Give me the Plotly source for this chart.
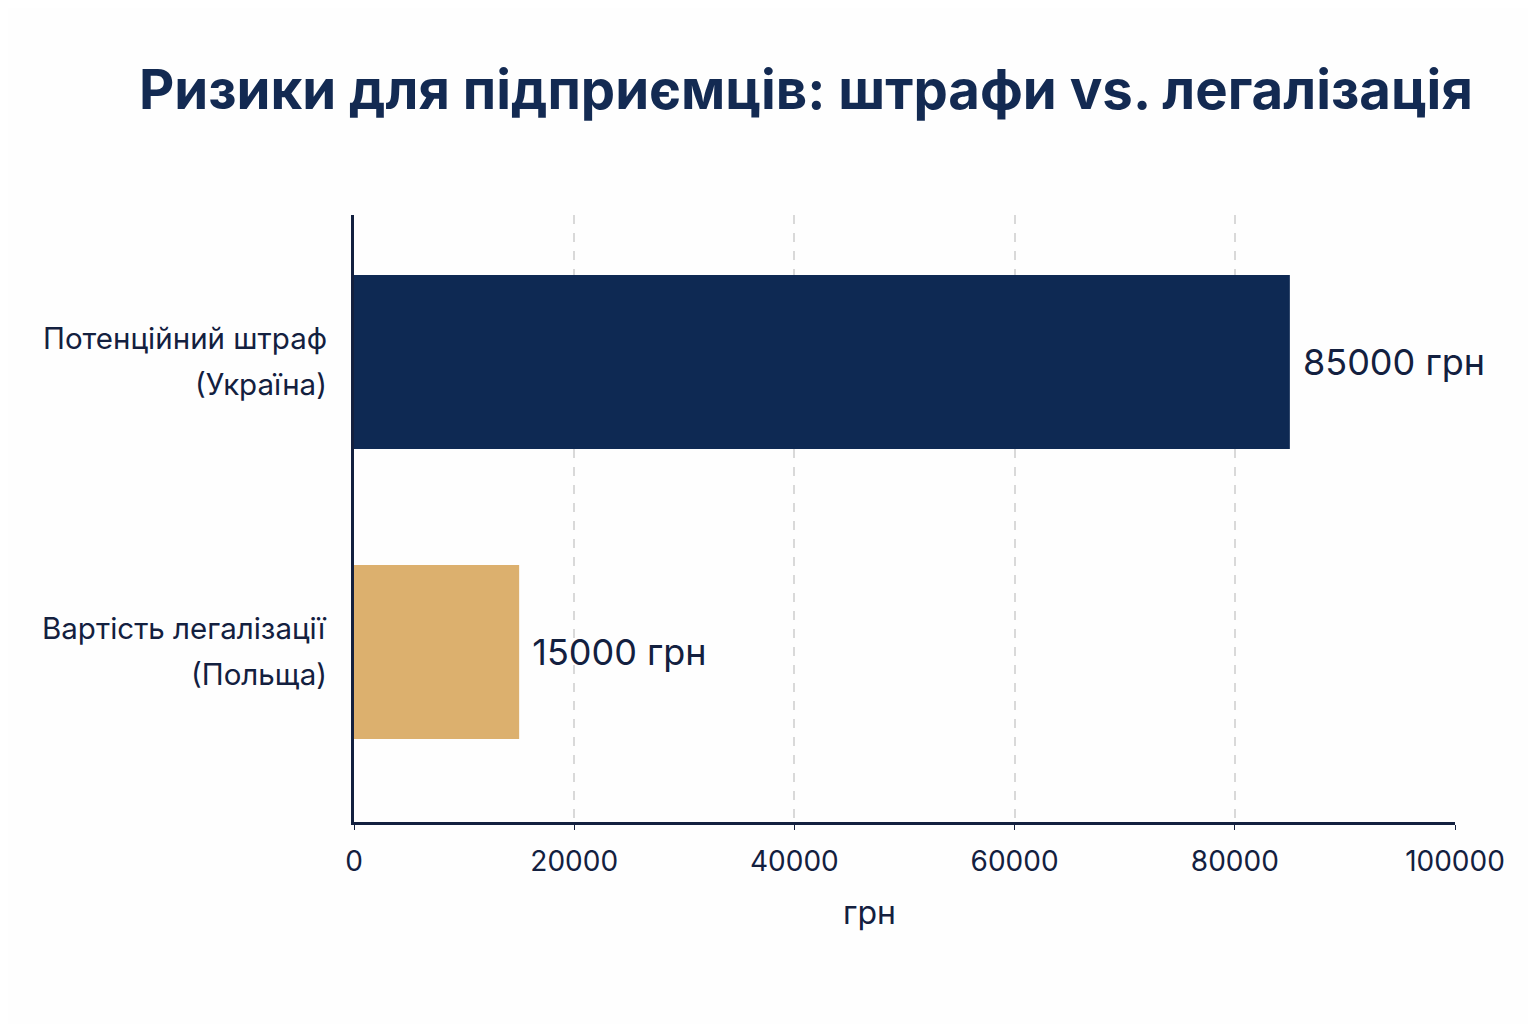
import plotly.graph_objects as go

# categories and values (грн)
categories = ["Потенційний штраф (Україна)", "Вартість легалізації (Польща)"]
label_line1 = ["Потенційний штраф", "Вартість легалізації"]
label_line2 = ["(Україна)", "(Польща)"]
values = [85000, 15000]
bar_colors = ["#0e2953", "#dcb06e"]
x_ticks = [0, 20000, 40000, 60000, 80000, 100000]

navy = "#13203f"

fig = go.Figure()

fig.add_trace(go.Bar(
    y=categories,
    x=values,
    orientation="h",
    marker=dict(color=bar_colors, line=dict(width=0)),
    width=0.6,
    text=[" %d грн" % v for v in values],
    textposition="outside",
    textfont=dict(size=36, color=navy),
    cliponaxis=False,
))

# two-line category labels, placed against each category
for cat, l1, l2 in zip(categories, label_line1, label_line2):
    for txt, shift in ((l1, 24), (l2, -22)):
        fig.add_annotation(
            x=0, xref="paper", xanchor="right", xshift=-25,
            y=cat, yref="y", yshift=shift, yanchor="middle",
            text=txt, showarrow=False, align="right",
            font=dict(size=29.5, color=navy),
        )

fig.add_annotation(
    x=0.468, xref="paper", xanchor="center",
    y=-0.149, yref="paper", yanchor="middle",
    text="грн", showarrow=False,
    font=dict(size=32, color=navy),
)

fig.update_layout(
    width=1536,
    height=1024,
    paper_bgcolor="#fefefe",
    plot_bgcolor="#fefefe",
    font=dict(family="Inter, Noto Sans, sans-serif", color=navy),
    title=dict(
        text="<b>Ризики для підприємців: штрафи vs. легалізація</b>",
        x=0.5195, xanchor="center", xref="container",
        y=0.92, yanchor="middle",
        font=dict(size=54.5, color="#132a52"),
    ),
    margin=dict(l=346, r=89, t=207, b=210),
    showlegend=False,
)

fig.update_xaxes(
    range=[0, 100000],
    tickvals=x_ticks,
    ticktext=[str(v) for v in x_ticks],
    tickfont=dict(size=28, color=navy),
    ticklabelstandoff=7,
    showgrid=True,
    gridcolor="#d9d9d9",
    griddash="dash",
    gridwidth=1.5,
    zeroline=False,
    showline=True,
    linecolor=navy,
    linewidth=3,
    ticks="outside",
    ticklen=5,
    tickcolor=navy,
)

fig.update_yaxes(
    range=[1.586, -0.507],
    showticklabels=False,
    showline=True,
    linecolor=navy,
    linewidth=3,
    showgrid=False,
    ticks="",
)

fig.write_html("out.html")
